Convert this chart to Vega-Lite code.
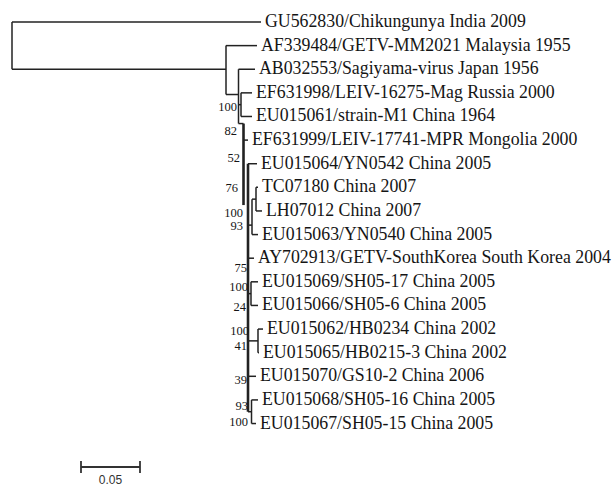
{
  "$schema": "https://vega.github.io/schema/vega-lite/v6.json",
  "width": 616,
  "height": 488,
  "padding": 0,
  "autosize": {"type": "none"},
  "background": "white",
  "config": {"view": {"stroke": null}},
  "datasets": {
    "branches": [
      {"x1": 0, "x2": 0.21102, "y1": 0, "y2": 0},
      {"x1": 0, "x2": 0, "y1": 0, "y2": 2},
      {"x1": 0, "x2": 0.18136, "y1": 2, "y2": 2},
      {"x1": 0.18136, "x2": 0.18136, "y1": 1, "y2": 3.07},
      {"x1": 0.18136, "x2": 0.20763, "y1": 1, "y2": 1},
      {"x1": 0.18136, "x2": 0.19195, "y1": 3.07, "y2": 3.07},
      {"x1": 0.19195, "x2": 0.19195, "y1": 2, "y2": 4.3},
      {"x1": 0.19195, "x2": 0.20593, "y1": 2, "y2": 2},
      {"x1": 0.19195, "x2": 0.19407, "y1": 3.5, "y2": 3.5},
      {"x1": 0.19407, "x2": 0.19407, "y1": 3, "y2": 4},
      {"x1": 0.19407, "x2": 0.20339, "y1": 3, "y2": 3},
      {"x1": 0.19407, "x2": 0.20339, "y1": 4, "y2": 4},
      {"x1": 0.19195, "x2": 0.19619, "y1": 4.3, "y2": 4.3},
      {"x1": 0.19619, "x2": 0.2, "y1": 5, "y2": 5},
      {"x1": 0.2, "x2": 0.20763, "y1": 6, "y2": 6},
      {"x1": 0.20678, "x2": 0.20678, "y1": 7, "y2": 8},
      {"x1": 0.20678, "x2": 0.20847, "y1": 7, "y2": 7},
      {"x1": 0.20678, "x2": 0.21186, "y1": 8, "y2": 8},
      {"x1": 0.20339, "x2": 0.20339, "y1": 7.5, "y2": 9},
      {"x1": 0.20339, "x2": 0.20678, "y1": 7.5, "y2": 7.5},
      {"x1": 0.20339, "x2": 0.20847, "y1": 9, "y2": 9},
      {"x1": 0.2, "x2": 0.20339, "y1": 8.6, "y2": 8.6},
      {"x1": 0.2, "x2": 0.20508, "y1": 10, "y2": 10},
      {"x1": 0.2, "x2": 0.20254, "y1": 11.5, "y2": 11.5},
      {"x1": 0.20254, "x2": 0.20254, "y1": 11, "y2": 12},
      {"x1": 0.20254, "x2": 0.20847, "y1": 11, "y2": 11},
      {"x1": 0.20254, "x2": 0.20847, "y1": 12, "y2": 12},
      {"x1": 0.2, "x2": 0.20847, "y1": 13.5, "y2": 13.5},
      {"x1": 0.20847, "x2": 0.20847, "y1": 13, "y2": 14},
      {"x1": 0.20847, "x2": 0.21271, "y1": 13, "y2": 13},
      {"x1": 0.20847, "x2": 0.20932, "y1": 14, "y2": 14},
      {"x1": 0.2, "x2": 0.20678, "y1": 15, "y2": 15},
      {"x1": 0.2, "x2": 0.20297, "y1": 16.5, "y2": 16.5},
      {"x1": 0.20297, "x2": 0.20297, "y1": 16, "y2": 17},
      {"x1": 0.20297, "x2": 0.20847, "y1": 16, "y2": 16},
      {"x1": 0.20297, "x2": 0.20678, "y1": 17, "y2": 17}
    ],
    "backbone": [
      {"x1": 0.19619, "x2": 0.19619, "y1": 4.3, "y2": 7.75},
      {"x1": 0.2, "x2": 0.2, "y1": 6, "y2": 16.5}
    ],
    "tips": [
      {"name": "GU562830/Chikungunya India 2009", "d": 0.21102, "row": 0},
      {"name": "AF339484/GETV-MM2021 Malaysia 1955", "d": 0.20763, "row": 1},
      {"name": "AB032553/Sagiyama-virus Japan 1956", "d": 0.20593, "row": 2},
      {"name": "EF631998/LEIV-16275-Mag Russia 2000", "d": 0.20339, "row": 3},
      {"name": "EU015061/strain-M1 China 1964", "d": 0.20339, "row": 4},
      {"name": "EF631999/LEIV-17741-MPR Mongolia 2000", "d": 0.2, "row": 5},
      {"name": "EU015064/YN0542 China 2005", "d": 0.20763, "row": 6},
      {"name": "TC07180 China 2007", "d": 0.20847, "row": 7},
      {"name": "LH07012 China 2007", "d": 0.21186, "row": 8},
      {"name": "EU015063/YN0540 China 2005", "d": 0.20847, "row": 9},
      {"name": "AY702913/GETV-SouthKorea South Korea 2004", "d": 0.20508, "row": 10},
      {"name": "EU015069/SH05-17 China 2005", "d": 0.20847, "row": 11},
      {"name": "EU015066/SH05-6 China 2005", "d": 0.20847, "row": 12},
      {"name": "EU015062/HB0234 China 2002", "d": 0.21271, "row": 13},
      {"name": "EU015065/HB0215-3 China 2002", "d": 0.20932, "row": 14},
      {"name": "EU015070/GS10-2 China 2006", "d": 0.20678, "row": 15},
      {"name": "EU015068/SH05-16 China 2005", "d": 0.20847, "row": 16},
      {"name": "EU015067/SH05-15 China 2005", "d": 0.20678, "row": 17}
    ],
    "boot": [
      {"bs": "100", "d": 0.19407, "row": 3.6},
      {"bs": "82", "d": 0.19407, "row": 4.615},
      {"bs": "52", "d": 0.19661, "row": 5.758},
      {"bs": "76", "d": 0.19492, "row": 7.028},
      {"bs": "100", "d": 0.19915, "row": 8.08},
      {"bs": "93", "d": 0.19915, "row": 8.62},
      {"bs": "75", "d": 0.20254, "row": 10.41},
      {"bs": "100", "d": 0.20339, "row": 11.22},
      {"bs": "24", "d": 0.20169, "row": 12.07},
      {"bs": "100", "d": 0.20424, "row": 13.08},
      {"bs": "41", "d": 0.20254, "row": 13.72},
      {"bs": "39", "d": 0.20254, "row": 15.16},
      {"bs": "93", "d": 0.20339, "row": 16.26},
      {"bs": "100", "d": 0.20339, "row": 16.93}
    ],
    "scalebar": [
      {"x1": 0.05847, "x2": 0.10847, "y1": 18.84, "y2": 18.84},
      {"x1": 0.05847, "x2": 0.05847, "y1": 18.59, "y2": 19.09},
      {"x1": 0.10847, "x2": 0.10847, "y1": 18.59, "y2": 19.09}
    ],
    "scalelabel": [
      {"label": "0.05", "d": 0.08347, "row": 19.4}
    ]
  },
  "layer": [
    {
      "data": {"name": "branches"},
      "mark": {"type": "rule", "strokeWidth": 1.5, "color": "#222222"},
      "encoding": {
        "x": {"field": "x1", "type": "quantitative", "scale": {"domain": [-0.01017, 0.51186], "nice": false, "zero": false}, "axis": null},
        "x2": {"field": "x2"},
        "y": {"field": "y1", "type": "quantitative", "scale": {"domain": [-0.9314, 19.729], "nice": false, "zero": false, "reverse": true}, "axis": null},
        "y2": {"field": "y2"}
      }
    },
    {
      "data": {"name": "backbone"},
      "mark": {"type": "rule", "strokeWidth": 2.6, "color": "#222222"},
      "encoding": {
        "x": {"field": "x1", "type": "quantitative"},
        "x2": {"field": "x2"},
        "y": {"field": "y1", "type": "quantitative"},
        "y2": {"field": "y2"}
      }
    },
    {
      "data": {"name": "tips"},
      "mark": {"type": "text", "align": "left", "baseline": "middle", "dx": 4, "font": "Liberation Serif", "fontSize": 17.8, "fill": "#151515"},
      "encoding": {
        "x": {"field": "d", "type": "quantitative"},
        "y": {"field": "row", "type": "quantitative"},
        "text": {"field": "name"}
      }
    },
    {
      "data": {"name": "boot"},
      "mark": {"type": "text", "align": "right", "baseline": "middle", "dx": -4, "font": "Liberation Serif", "fontSize": 12.5, "fill": "#151515"},
      "encoding": {
        "x": {"field": "d", "type": "quantitative"},
        "y": {"field": "row", "type": "quantitative"},
        "text": {"field": "bs"}
      }
    },
    {
      "data": {"name": "scalebar"},
      "mark": {"type": "rule", "strokeWidth": 1.8, "color": "#333333"},
      "encoding": {
        "x": {"field": "x1", "type": "quantitative"},
        "x2": {"field": "x2"},
        "y": {"field": "y1", "type": "quantitative"},
        "y2": {"field": "y2"}
      }
    },
    {
      "data": {"name": "scalelabel"},
      "mark": {"type": "text", "align": "center", "baseline": "middle", "font": "Liberation Sans", "fontSize": 12, "fill": "#333333"},
      "encoding": {
        "x": {"field": "d", "type": "quantitative"},
        "y": {"field": "row", "type": "quantitative"},
        "text": {"field": "label"}
      }
    }
  ]
}
